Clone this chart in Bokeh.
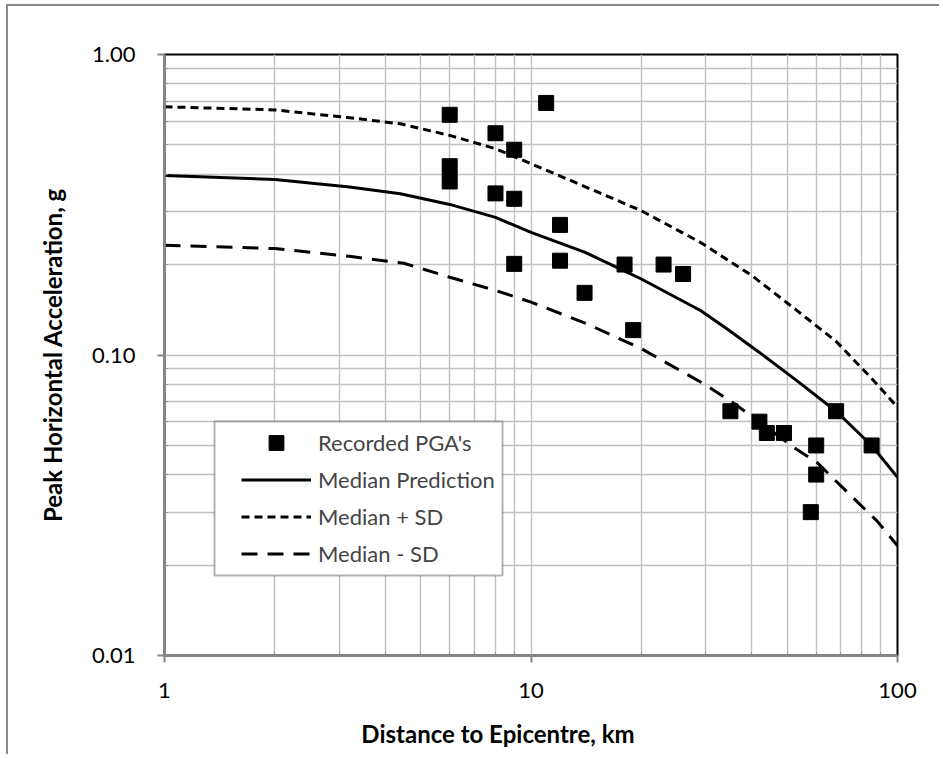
from bokeh.plotting import figure
from bokeh.models import (FixedTicker, PrintfTickFormatter, Legend, LegendItem,
                          BoxAnnotation)
from bokeh.embed import file_html
from bokeh.resources import INLINE

# Recorded PGA data
rec_dist = [6, 6, 6, 8, 8, 9, 9, 9, 11, 12, 12, 14, 18, 19, 23, 26,
            35, 42, 44, 49, 60, 60, 58, 68, 85]
rec_pga = [0.63, 0.425, 0.378, 0.547, 0.345, 0.482, 0.331, 0.201, 0.69, 0.271, 0.206,
           0.161, 0.20, 0.121, 0.20, 0.186,
           0.065, 0.060, 0.055, 0.055, 0.050, 0.040, 0.030, 0.065, 0.050]

# Median prediction curve
med_dist = [1, 2, 3.2, 4.4, 6, 8, 10, 14, 17.5, 20, 29, 34.3, 42, 53, 68, 85, 100]
med_pga = [0.396, 0.384, 0.362, 0.344, 0.317, 0.287, 0.256, 0.22, 0.1935, 0.179,
           0.1406, 0.122, 0.102, 0.0823, 0.065, 0.050, 0.0392]

# Median + SD
plus_dist = [1, 2, 3.2, 4.4, 6, 8, 10, 12.5, 20, 29, 40, 53, 68, 86, 100]
plus_pga = [0.67, 0.654, 0.616, 0.588, 0.538, 0.486, 0.433, 0.386, 0.302, 0.237,
            0.184, 0.141, 0.111, 0.0823, 0.067]

# Median - SD
minus_dist = [1, 2, 3.2, 4.5, 6, 8, 10, 14.3, 20, 29.6, 35.8, 41.6, 52, 60.2, 72.9, 88, 100]
minus_pga = [0.232, 0.226, 0.213, 0.202, 0.1815, 0.164, 0.150, 0.1265, 0.105, 0.0802,
             0.069, 0.0605, 0.0493, 0.044, 0.0350, 0.0280, 0.0232]

x_ticks = [1, 10, 100]
x_minor = [2, 3, 4, 5, 6, 7, 8, 9, 20, 30, 40, 50, 60, 70, 80, 90]
y_ticks = [0.01, 0.1, 1.0]
y_minor = [0.02, 0.03, 0.04, 0.05, 0.06, 0.07, 0.08, 0.09,
           0.2, 0.3, 0.4, 0.5, 0.6, 0.7, 0.8, 0.9]

FONT = "Lato"

p = figure(width=933, height=750, x_axis_type="log", y_axis_type="log",
           x_range=(1, 100), y_range=(0.01, 1), output_backend="svg",
           toolbar_location=None, min_border_left=156, min_border_right=44,
           min_border_top=48, min_border_bottom=101)
p.styles = {"border-left": "2px solid #8a8a8a", "border-top": "2px solid #8a8a8a",
            "margin-left": "6px", "margin-top": "4px"}
p.background_fill_color = "white"
p.border_fill_color = "white"
p.outline_line_color = "black"
p.outline_line_width = 2

p.xaxis.ticker = FixedTicker(ticks=x_ticks, minor_ticks=x_minor)
p.yaxis.ticker = FixedTicker(ticks=y_ticks, minor_ticks=y_minor)
p.xaxis.formatter = PrintfTickFormatter(format="%d")
p.yaxis.formatter = PrintfTickFormatter(format="%.2f")

for g in (p.xgrid, p.ygrid):
    g.grid_line_color = "#c0c0c0"
    g.grid_line_width = 1.4
    g.minor_grid_line_color = "#c0c0c0"
    g.minor_grid_line_width = 1.4

for ax in (p.xaxis, p.yaxis):
    ax.axis_line_color = "#868686"
    ax.axis_line_width = 2.5
    ax.major_tick_line_color = "#868686"
    ax.major_tick_line_width = 2
    ax.major_tick_out = 7
    ax.major_tick_in = 0
    ax.minor_tick_line_color = "#868686"
    ax.minor_tick_out = 0
    ax.minor_tick_in = 3
    ax.major_label_text_font = FONT
    ax.major_label_text_font_size = "22px"
    ax.major_label_text_color = "black"
    ax.axis_label_text_font = FONT
    ax.axis_label_text_font_size = "24px"
    ax.axis_label_text_font_style = "bold"
    ax.axis_label_text_color = "black"

# trailing spaces shift the centred title left, as in the reference
p.xaxis.axis_label = "Distance to Epicentre, km" + "\u2003\u2003\u2003\u2002"
p.yaxis.axis_label = "Peak Horizontal Acceleration, g"
p.xaxis.major_label_standoff = 20
p.xaxis.axis_label_standoff = 18
p.yaxis.major_label_standoff = 22
p.yaxis.axis_label_standoff = 22

r_med = p.line(med_dist, med_pga, line_color="black", line_width=3)
r_plus = p.line(plus_dist, plus_pga, line_color="black", line_width=3, line_dash="8 5")
r_minus = p.line(minus_dist, minus_pga, line_color="black", line_width=3, line_dash="16 10")
r_rec = p.scatter(rec_dist, rec_pga, marker="square", size=15, fill_color="black",
                  line_color="black")

# legend box
box = BoxAnnotation(left=50, right=338, bottom=80, top=234,
                    left_units="screen", right_units="screen",
                    bottom_units="screen", top_units="screen",
                    fill_color="white", fill_alpha=1, line_color="black", line_width=2)
p.add_layout(box)

legend = Legend(items=[LegendItem(label="Recorded PGA's", renderers=[r_rec]),
                       LegendItem(label="Median Prediction", renderers=[r_med]),
                       LegendItem(label="Median + SD", renderers=[r_plus]),
                       LegendItem(label="Median - SD", renderers=[r_minus])],
                location=(74, 80), margin=0, padding=3, spacing=0,
                glyph_width=70, glyph_height=37, label_height=37, label_standoff=7,
                label_text_font=FONT, label_text_font_size="22px",
                border_line_alpha=0, background_fill_alpha=0)
p.add_layout(legend, "center")

open("out.html", "w").write(file_html(p, INLINE))
